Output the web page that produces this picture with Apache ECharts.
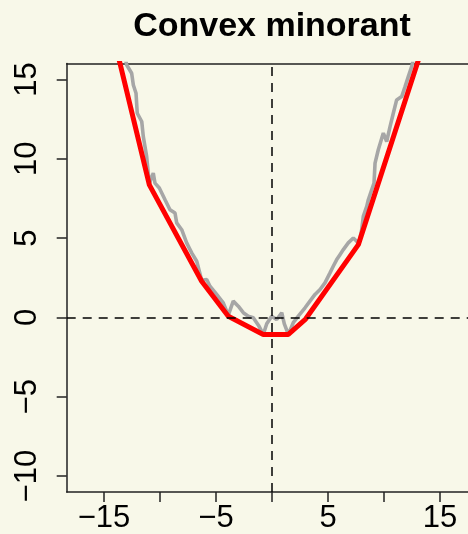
<!DOCTYPE html>
<html>
<head>
<meta charset="UTF-8">
<title>Convex minorant</title>
<script src="https://cdn.jsdelivr.net/npm/echarts@6/dist/echarts.min.js"></script>
<style>
  html, body { margin: 0; padding: 0; background: #F8F8E9; }
</style>
</head>
<body>
<div id="main" style="width: 468px;height:534px;"></div>
<script>
// gray path
var pathX = [-13.3, -12.97, -12.53, -12.38, -12.14, -12.03, -11.63, -11.49, -11.19, -10.96, -10.60, -10.45, -10.06, -9.55,
  -9.11, -8.66, -8.51, -8.06, -7.62, -7.17, -6.72, -6.28, -5.83, -5.54, -4.94, -4.35, -3.90, -3.46, -3.01, -2.56,
  -2.12, -1.67, -1.20, -0.78, -0.47, -0.03, 0.42, 0.87, 1.10, 1.46, 1.90, 2.35, 2.95, 3.39, 3.84, 4.29, 4.73, 5.18,
  5.47, 5.78, 6.07, 6.37, 6.81, 7.26, 7.56, 7.74, 8.01, 8.15, 8.46, 8.60, 8.90, 9.11, 9.20, 9.49, 9.94, 10.24, 10.54,
  10.83, 11.13, 11.58, 11.88, 12.17, 12.47, 12.8];
var pathY = [17.0, 15.91, 15.39, 14.65, 14.13, 12.87, 12.35, 11.40, 10.14, 8.43, 9.10, 8.47, 8.16, 7.42,
  6.79, 6.58, 5.96, 5.53, 4.70, 4.07, 3.54, 2.35, 2.39, 1.97, 1.45, 0.92, 0.15, 1.03, 0.71, 0.30,
  0.08, -0.02, -0.50, -1.07, -0.40, 0.08, -0.13, 0.30, -0.40, -1.07, -0.33, 0.08, 0.61, 1.03, 1.45, 1.76, 2.18, 2.81,
  3.23, 3.65, 3.96, 4.28, 4.70, 5.01, 4.80, 4.62, 5.53, 6.37, 7.00, 7.42, 8.05, 8.47, 9.73, 10.57, 11.62, 11.09, 12.03,
  12.87, 13.71, 13.92, 14.55, 15.18, 15.81, 16.8];
// convex minorant vertices
var hullX = [-13.8, -10.95, -6.28, -3.90, -0.78, 1.46, 3.00, 7.71, 13.4];
var hullY = [16.68, 8.36, 2.28, 0.08, -1.07, -1.07, -0.10, 4.59, 16.94];
var xTicks = [-15, -10, -5, 0, 5, 10, 15];
var xLabels = [-15, -5, 5, 15];
var yTicks = [-10, -5, 0, 5, 10, 15];

function pairs(xs, ys) {
  var out = [];
  for (var i = 0; i < xs.length; i++) out.push([xs[i], ys[i]]);
  return out;
}
function minus(v) { return String(v).replace('-', '\u2212'); }

var myChart = echarts.init(document.getElementById('main'));
myChart.setOption({
  backgroundColor: '#F8F8E9',
  animation: false,
  title: {
    text: 'Convex minorant',
    left: 267, top: 5, textAlign: 'center',
    textStyle: { fontFamily: 'Liberation Sans', fontWeight: 'bold', fontSize: 34, color: '#000' }
  },
  grid: { left: 66.7, right: 0, top: 63.6, bottom: 41.3 },
  xAxis: [{
    type: 'value', min: -18.33, max: 17.5,
    splitLine: { show: false },
    axisLine: { onZero: false, lineStyle: { color: '#222', width: 1.5 } },
    axisTick: { customValues: xTicks, length: 10, lineStyle: { color: '#222', width: 1.5 } },
    axisLabel: { customValues: xLabels, formatter: minus, margin: 11,
      fontFamily: 'Liberation Sans', fontSize: 31, color: '#000' }
  }, {
    type: 'value', position: 'top', min: -18.33, max: 17.5,
    splitLine: { show: false },
    axisLine: { show: true, onZero: false, lineStyle: { color: '#222', width: 1.5 } },
    axisTick: { show: false }, axisLabel: { show: false }
  }],
  yAxis: {
    type: 'value', min: -11, max: 16,
    splitLine: { show: false },
    axisLine: { show: true, onZero: false, lineStyle: { color: '#222', width: 1.5 } },
    axisTick: { show: true, customValues: yTicks, length: 10, lineStyle: { color: '#222', width: 1.5 } },
    axisLabel: { customValues: yTicks, formatter: minus, rotate: 90, margin: 24,
      fontFamily: 'Liberation Sans', fontSize: 31, color: '#000' }
  },
  series: [{
    name: 'path', type: 'line', data: pairs(pathX, pathY),
    showSymbol: false, symbol: 'none',
    lineStyle: { color: '#A6A6A6', width: 3.6 },
    markLine: {
      silent: true, symbol: 'none', label: { show: false },
      lineStyle: { color: '#000', type: [9, 7], width: 1.5 },
      data: [{ xAxis: 0 }, { yAxis: 0 }]
    }
  }, {
    name: 'minorant', type: 'line', data: pairs(hullX, hullY),
    showSymbol: false, symbol: 'none',
    lineStyle: { color: '#FF0000', width: 5 }
  }]
});
</script>
</body>
</html>
